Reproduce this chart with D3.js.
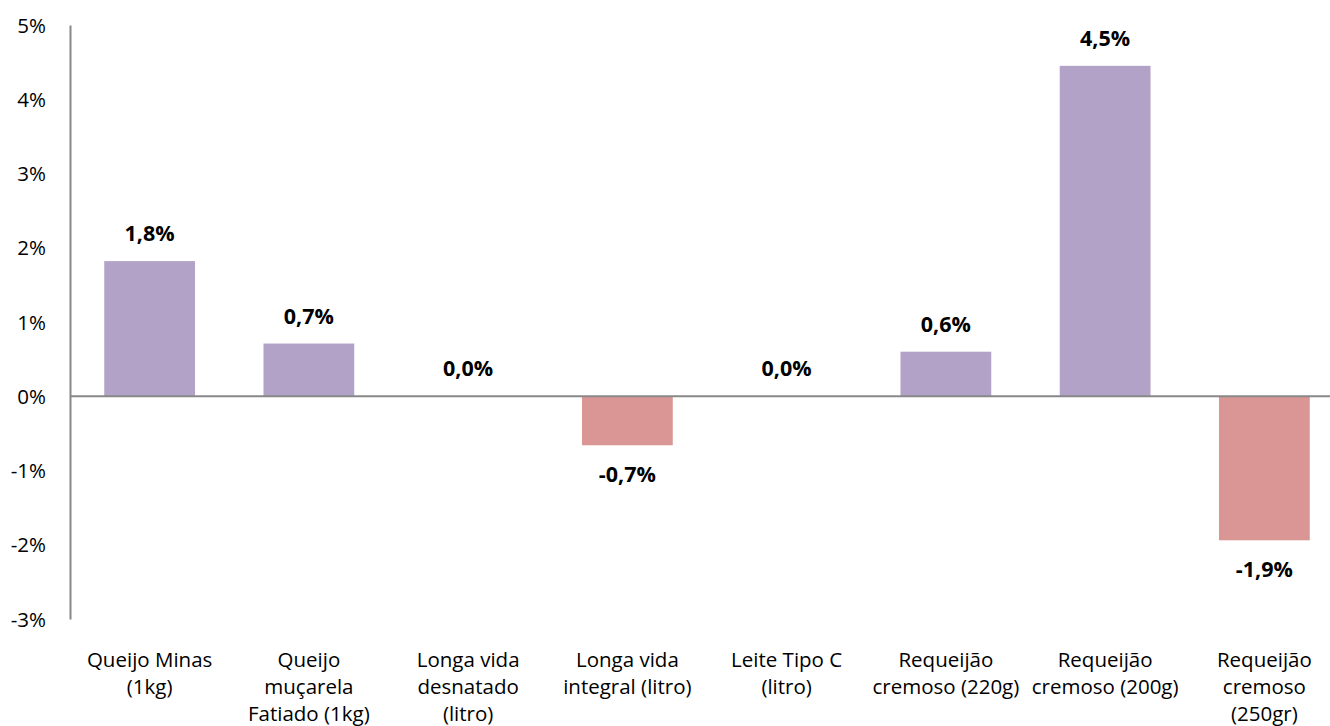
<!DOCTYPE html>
<html>
<meta charset="utf-8">
<script src="https://d3js.org/d3.v7.min.js"></script>
<style>
body { margin: 0; background: #fff; }
text { font-family: "Open Sans", sans-serif; fill: #000; }
</style>
<body>
<script>

// chart data
var categories = ["Queijo Minas\n(1kg)", "Queijo\nmuçarela\nFatiado (1kg)", "Longa vida\ndesnatado\n(litro)",
  "Longa vida\nintegral (litro)", "Leite Tipo C\n(litro)", "Requeijão\ncremoso (220g)",
  "Requeijão\ncremoso (200g)", "Requeijão\ncremoso\n(250gr)"];
var values = [1.82, 0.71, 0, -0.66, 0, 0.6, 4.45, -1.94];
var valueLabels = ["1,8%", "0,7%", "0,0%", "-0,7%", "0,0%", "0,6%", "4,5%", "-1,9%"];
var yTicks = [-3, -2, -1, 0, 1, 2, 3, 4, 5];

var width = 1330, height = 726;
// plot area runs a little past the right edge, like the original
var margin = ({top: 25, left: 70, right: -14, bottom: 107});

var svg = d3.select("body").append("svg")
  .attr("width", width)
  .attr("height", height);

var x = d3.scaleBand()
  .domain(d3.range(categories.length))
  .range([margin.left, width - margin.right])
  .paddingInner(0.43)
  .paddingOuter(0.215);

var y = d3.scaleLinear()
  .domain([-3, 5])
  .range([height - margin.bottom, margin.top]);

// bars
svg.selectAll("rect.bar")
  .data(values)
  .enter().append("rect")
  .attr("class", "bar")
  .attr("x", function(d, i) { return x(i); })
  .attr("y", function(d) { return y(Math.max(0, d)); })
  .attr("width", x.bandwidth())
  .attr("height", function(d) { return Math.abs(y(d) - y(0)); })
  .attr("fill", function(d) { return d < 0 ? "#D99694" : "#B3A2C7"; });

// y axis
var yAx = d3.axisLeft(y)
  .tickValues(yTicks)
  .tickSize(0)
  .tickPadding(24)
  .tickFormat(function(d) { return d + "%"; });
var yGroup = svg.append("g")
  .attr("transform", `translate(${margin.left},0)`)
  .call(yAx);
yGroup.select(".domain").attr("stroke", "#888").attr("stroke-width", 2);
yGroup.selectAll("text")
  .style("font-size", "20.5px")
  .attr("dy", "0.35em");

// zero line
svg.append("line")
  .attr("x1", margin.left)
  .attr("x2", width)
  .attr("y1", y(0))
  .attr("y2", y(0))
  .attr("stroke", "#888")
  .attr("stroke-width", 2);

// value labels
svg.selectAll("text.val")
  .data(values)
  .enter().append("text")
  .attr("class", "val")
  .attr("x", function(d, i) { return x(i) + x.bandwidth() / 2; })
  .attr("y", function(d) { return d < 0 ? y(d) + 37 : y(d) - 20; })
  .attr("text-anchor", "middle")
  .style("font-size", "21.5px")
  .style("font-weight", "bold")
  .text(function(d, i) { return valueLabels[i]; });

// category labels
var cat = svg.selectAll("text.cat")
  .data(categories)
  .enter().append("text")
  .attr("class", "cat")
  .attr("text-anchor", "middle")
  .attr("x", function(d, i) { return x(i) + x.bandwidth() / 2; })
  .attr("y", 667)
  .style("font-size", "20.5px");
cat.each(function(d) {
  var t = d3.select(this);
  var xx = t.attr("x");
  d.split("\n").forEach(function(line, k) {
    t.append("tspan").attr("x", xx).attr("dy", k == 0 ? 0 : 27).text(line);
  });
});

</script>
</body>
</html>
